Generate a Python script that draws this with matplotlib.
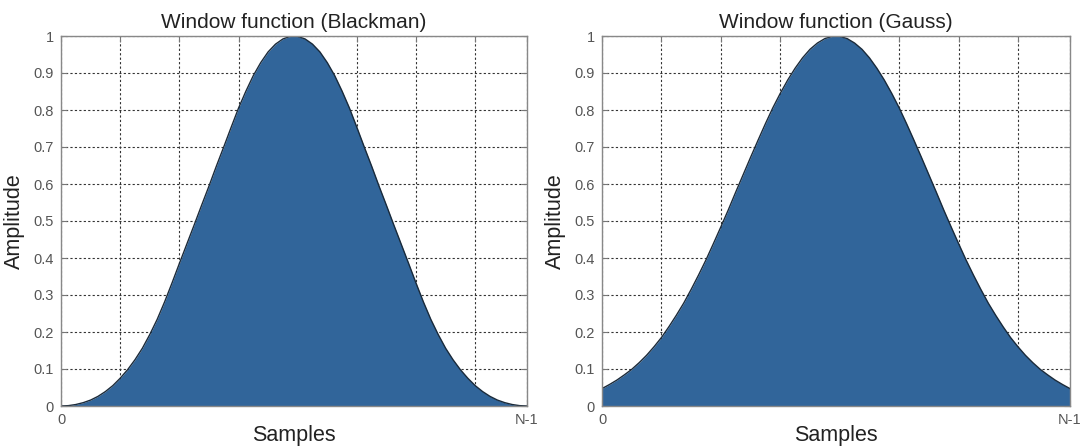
import matplotlib
matplotlib.use("Agg")
import matplotlib.pyplot as plt
import numpy as np

# samples 0 .. N-1 (N = 64)
samples = np.arange(64)

# window values (left half, mirrored by eye for the right half)
blackman = [0.000, 0.001, 0.004, 0.009, 0.016, 0.026, 0.039, 0.055,
            0.075, 0.098, 0.125, 0.156, 0.193, 0.234, 0.281, 0.332,
            0.385, 0.437, 0.489, 0.542, 0.594, 0.648, 0.700, 0.753,
            0.805, 0.851, 0.893, 0.928, 0.957, 0.978, 0.992, 0.999,
            0.999, 0.992, 0.978, 0.957, 0.928, 0.893, 0.851, 0.805,
            0.753, 0.700, 0.648, 0.594, 0.542, 0.489, 0.437, 0.385,
            0.332, 0.281, 0.234, 0.193, 0.156, 0.125, 0.098, 0.075,
            0.055, 0.039, 0.026, 0.016, 0.009, 0.004, 0.001, 0.000]

gauss = [0.047, 0.058, 0.070, 0.084, 0.099, 0.117, 0.137, 0.160,
         0.185, 0.214, 0.245, 0.278, 0.315, 0.354, 0.395, 0.439,
         0.484, 0.530, 0.578, 0.625, 0.672, 0.718, 0.763, 0.806,
         0.845, 0.881, 0.913, 0.941, 0.964, 0.981, 0.993, 0.999,
         0.999, 0.993, 0.981, 0.964, 0.941, 0.913, 0.881, 0.845,
         0.806, 0.763, 0.718, 0.672, 0.625, 0.578, 0.530, 0.484,
         0.439, 0.395, 0.354, 0.315, 0.278, 0.245, 0.214, 0.185,
         0.160, 0.137, 0.117, 0.099, 0.084, 0.070, 0.058, 0.047]

titles = ["Window function (Blackman)", "Window function (Gauss)"]
xticks = [0, 8, 16, 24, 32, 40, 48, 56, 63]
xticklabels = ["0", "", "", "", "", "", "", "", "N-1"]
yticks = [0, 0.1, 0.2, 0.3, 0.4, 0.5, 0.6, 0.7, 0.8, 0.9, 1]
yticklabels = ["0", "0.1", "0.2", "0.3", "0.4", "0.5", "0.6", "0.7", "0.8", "0.9", "1"]

plt.rcParams['font.family'] = ['Liberation Sans', 'DejaVu Sans']

fill_col = '#31659a'
fig = plt.figure(figsize=(10.8, 4.46), dpi=100)

rects = [[61/1080, 40/446, 466/1080, 370/446],
         [602/1080, 40/446, 468/1080, 370/446]]

for rect, data, title in zip(rects, [blackman, gauss], titles):
    ax = fig.add_axes(rect)
    ax.fill_between(samples, 0, data, color=fill_col, lw=0, zorder=2)
    ax.plot(samples, data, color='#1a2a3a', lw=1.0, zorder=3)

    ax.set_xlim(0, 63)
    ax.set_ylim(0, 1)
    ax.set_xticks(xticks)
    ax.set_xticklabels(xticklabels)
    ax.set_yticks(yticks)
    ax.set_yticklabels(yticklabels)
    ax.tick_params(direction='in', length=4, width=0.8, color='#777777',
                   labelcolor='#555555', top=True, right=True, pad=5)
    for lab in ax.get_xticklabels() + ax.get_yticklabels():
        lab.set_family(['Liberation Sans Narrow', 'Liberation Sans'])
        lab.set_fontsize(10.5)

    ax.grid(True, color='#333333', linestyle=(0, (2, 2)), lw=0.8, zorder=1)
    ax.set_axisbelow(True)
    for sp in ax.spines.values():
        sp.set_color('#888888')
        sp.set_linewidth(1.0)
        sp.set_zorder(4)

    ax.set_title(title, fontsize=15, color='#222222', pad=6)
    ax.set_xlabel('Samples', fontsize=15.5, color='#222222')
    ax.xaxis.set_label_coords(0.5, -0.05)
    ax.xaxis.label.set_va('top')
    ax.set_ylabel('Amplitude', fontsize=15.5, color='#222222')
    ax.yaxis.set_label_coords(-0.078, 0.5)

fig.savefig('out.png', dpi=100)
